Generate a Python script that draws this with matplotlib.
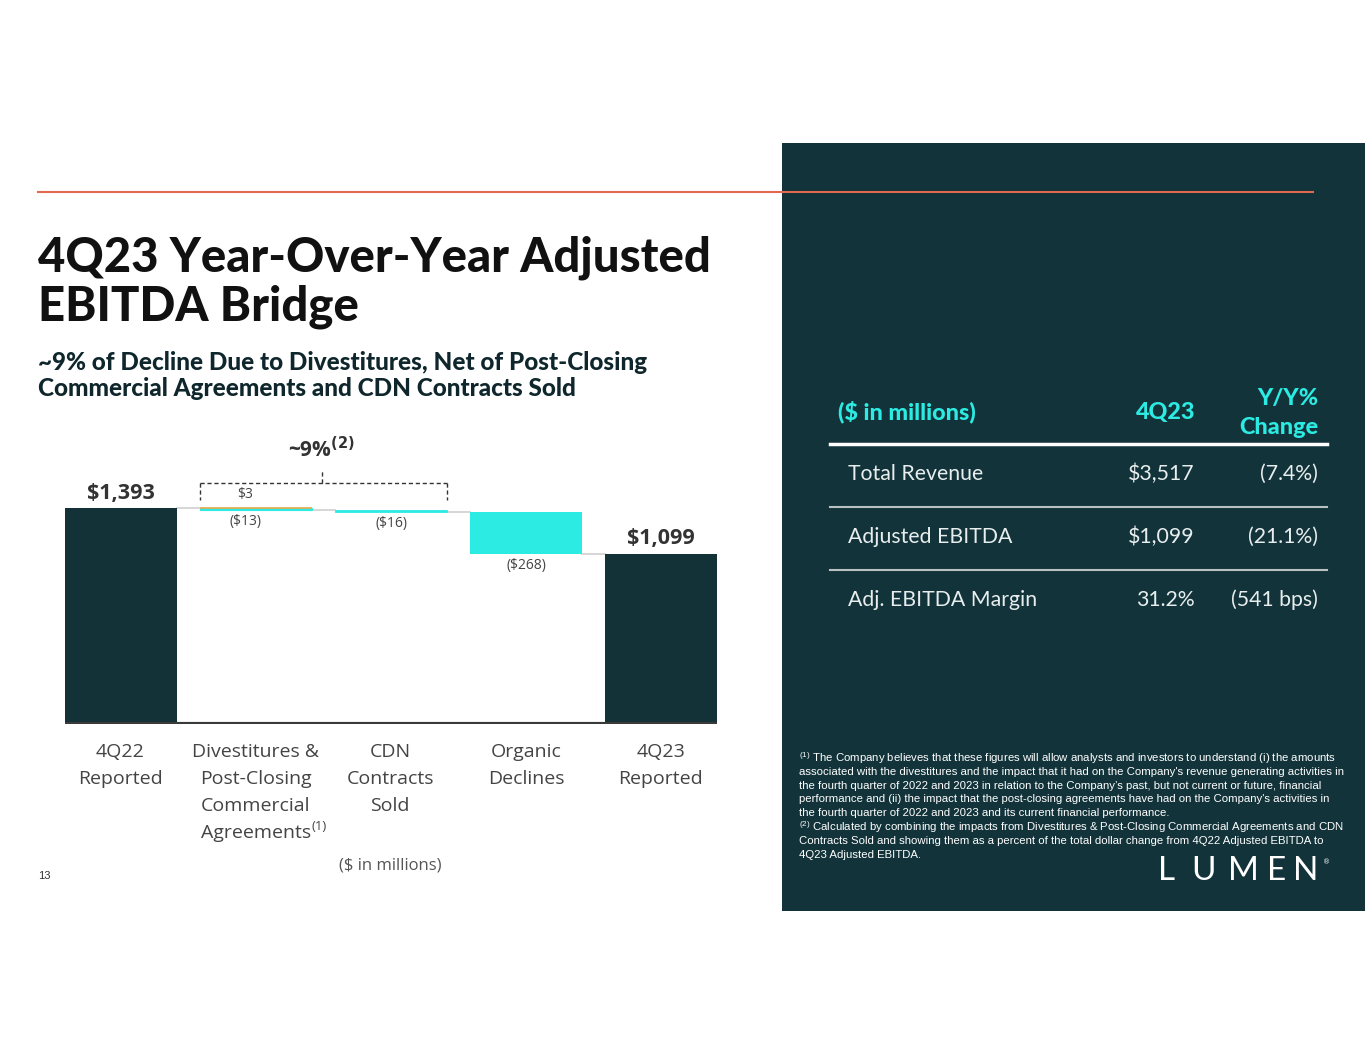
import matplotlib
matplotlib.use("Agg")
import matplotlib.pyplot as plt
from matplotlib.patches import Rectangle
from matplotlib.lines import Line2D

# ---------------- data ----------------
categories = ["4Q22\nReported", "Divestitures &\nPost-Closing\nCommercial\nAgreements",
              "CDN\nContracts\nSold", "Organic\nDeclines", "4Q23\nReported"]
start_value = 1393
post_closing = 3
divestitures = -13
cdn_sold = -16
organic = -268
end_value = 1099
value_labels = ["$1,393", "$3", "($13)", "($16)", "($268)", "$1,099"]

table_header = ["($ in millions)", "4Q23", "Y/Y%\nChange"]
table_rows = ["Total Revenue", "Adjusted EBITDA", "Adj. EBITDA Margin"]
table_4q23 = ["$3,517", "$1,099", "31.2%"]
table_change = ["(7.4%)", "(21.1%)", "(541 bps)"]

footnotes = [
    r"$^{(1)}$ The Company believes that these figures will allow analysts and investors to understand (i) the amounts",
    "associated with the divestitures and the impact that it had on the Company's revenue generating activities in",
    "the fourth quarter of 2022 and 2023 in relation to the Company\u2019s past, but not current or future, financial",
    "performance and (ii) the impact that the post-closing agreements have had on the Company's activities in",
    "the fourth quarter of 2022 and 2023 and its current financial performance.",
    r"$^{(2)}$ Calculated by combining the impacts from Divestitures & Post-Closing Commercial Agreements and CDN",
    "Contracts Sold and showing them as a percent of the total dollar change from 4Q22 Adjusted EBITDA to",
    "4Q23 Adjusted EBITDA.",
]

# ---------------- style ----------------
plt.rcParams['mathtext.default'] = 'regular'
DARK = "#12333a"
BAR_DARK = "#133237"
CYAN = "#2cebe3"
GOLD = "#e9a94e"
ORANGE_LINE = "#e2694f"
GRAY_TXT = "#444444"

W, H = 1365, 1055
fig = plt.figure(figsize=(W / 100, H / 100), dpi=100)
fig.patch.set_facecolor("white")


def P(x, y):
    return (x / W, 1 - y / H)


# dark side panel
fig.patches.append(Rectangle(P(782, 911), (W - 782) / W, (911 - 143) / H,
                             transform=fig.transFigure, facecolor=DARK, edgecolor="none", zorder=0))
# orange rule
fig.lines.append(Line2D([38 / W, 1313 / W], [1 - 192 / H] * 2, transform=fig.transFigure,
                        color=ORANGE_LINE, lw=1.5, zorder=2))

# title & subtitle
TFONT = ["Lato", "DejaVu Sans"]
fig.text(*P(38, 258), "4Q23 Year-Over-Year Adjusted", fontsize=34, fontweight="black",
         family=TFONT, color="#111111", va="center", ha="left")
fig.text(*P(38, 307), "EBITDA Bridge", fontsize=34, fontweight="black",
         family=TFONT, color="#111111", va="center", ha="left")
fig.text(*P(38, 362), "~9% of Decline Due to Divestitures, Net of Post-Closing", fontsize=17.5,
         fontweight="black", family=TFONT, color="#0f272c", va="center", ha="left")
fig.text(*P(38, 389), "Commercial Agreements and CDN Contracts Sold", fontsize=17.5,
         fontweight="black", family=TFONT, color="#0f272c", va="center", ha="left")

# ---------------- waterfall chart ----------------
ax_top, ax_bot, ax_l, ax_r = 440, 724, 65, 717
ax = fig.add_axes([ax_l / W, 1 - ax_bot / H, (ax_r - ax_l) / W, (ax_bot - ax_top) / H])
ymax = 1835
ax.set_xlim(-0.415, 4.415)
ax.set_ylim(0, ymax)
ax.axis("off")
bw = 0.83

x = list(range(5))
lvl1 = start_value + post_closing          # top after agreements
lvl_div = lvl1 + divestitures               # after divestitures
lvl_cdn = lvl_div + cdn_sold
lvl_org = lvl_cdn + organic

ax.bar(x[0], start_value, width=bw, color=BAR_DARK, zorder=3)
ax.bar(x[1], -divestitures, bottom=lvl_div, width=bw, color=CYAN, zorder=3,
       edgecolor=CYAN, linewidth=0.8)
ax.bar(x[1], post_closing, bottom=start_value, width=bw, color=GOLD, zorder=4,
       edgecolor=GOLD, linewidth=1.2)
ax.bar(x[2], -cdn_sold, bottom=lvl_cdn, width=bw, color=CYAN, zorder=3,
       edgecolor=CYAN, linewidth=0.6)
ax.bar(x[3], -organic, bottom=lvl_org, width=bw, color=CYAN, zorder=3)
ax.bar(x[4], end_value, width=bw, color=BAR_DARK, zorder=3)

# connectors
conn = [(0, start_value), (1, lvl_div), (2, lvl_cdn), (3, lvl_org)]
for i, lv in conn:
    ax.plot([i + bw / 2, i + 1 - bw / 2], [lv, lv], color="#d0d0d0", lw=1.2, zorder=2)

# baseline
ax.plot([-0.415, 4.415], [0, 0], color="#3a3a3a", lw=3, zorder=5, solid_capstyle="butt")

LFONT = ["Open Sans", "DejaVu Sans"]
ax.text(x[0], start_value + 30, value_labels[0], ha="center", va="bottom", fontsize=15.5,
        fontweight="bold", family=LFONT, color="#333333")
ax.text(x[4], end_value + 30, value_labels[5], ha="center", va="bottom", fontsize=15.5,
        fontweight="bold", family=LFONT, color="#333333")
ax.text(x[1] - 0.08, lvl1 + 40, value_labels[1], ha="center", va="bottom", fontsize=10,
        family=LFONT, color=GRAY_TXT)
ax.text(x[1] - 0.08, lvl_div - 25, value_labels[2], ha="center", va="top", fontsize=10,
        family=LFONT, color=GRAY_TXT)
ax.text(x[2], lvl_cdn - 25, value_labels[3], ha="center", va="top", fontsize=10,
        family=LFONT, color=GRAY_TXT)
ax.text(x[3], lvl_org - 25, value_labels[4], ha="center", va="top", fontsize=10,
        family=LFONT, color=GRAY_TXT)

# bracket (~9%)
bl = P(200, 0)[0]; br = P(447, 0)[0]; bm = P(322, 0)[0]
yb = 1 - 483 / H; yd = 1 - 500 / H; yu = 1 - 470 / H
for xs, ys in [([bl, br], [yb, yb]), ([bl, bl], [yb, yd]), ([br, br], [yb, yd]), ([bm, bm], [yb, yu])]:
    fig.lines.append(Line2D(xs, ys, transform=fig.transFigure, color="#333333", lw=1,
                            linestyle=(0, (3, 2)), zorder=6))
fig.text(*P(322, 450), r"~9%$^{\mathbf{(2)}}$", fontsize=15, fontweight="bold", family=LFONT,
         color="#333333", ha="center", va="center")

# category labels
cat_x = [120, 256, 390, 526, 661]
for cx, lab in zip(cat_x, categories):
    for j, line in enumerate(lab.split("\n")):
        fig.text(*P(cx, 752 + j * 27), line, fontsize=14, family=LFONT, color=GRAY_TXT,
                 ha="center", va="center")
fig.text(*P(312, 826), "(1)", fontsize=9.5, family=LFONT, color=GRAY_TXT, ha="left", va="center")
fig.text(*P(390, 866), "($ in millions)", fontsize=12, family=LFONT, color="#555555",
         ha="center", va="center")
fig.text(*P(38, 876), "13", fontsize=8, family=["Liberation Sans"], color="#333333",
         ha="left", va="center")

# ---------------- table ----------------
HS = 16.8
fig.text(*P(838, 412), table_header[0], fontsize=HS, fontweight="black", family=TFONT,
         color=CYAN, ha="left", va="center")
fig.text(*P(1195, 412), table_header[1], fontsize=HS, fontweight="black", family=TFONT,
         color=CYAN, ha="right", va="center")
h2 = table_header[2].split("\n")
fig.text(*P(1318, 399), h2[0], fontsize=HS, fontweight="black", family=TFONT,
         color=CYAN, ha="right", va="center")
fig.text(*P(1318, 427), h2[1], fontsize=HS, fontweight="black", family=TFONT,
         color=CYAN, ha="right", va="center")
fig.lines.append(Line2D([830 / W, 1327 / W], [1 - 444 / H] * 2, transform=fig.transFigure,
                        color="white", lw=2.5))
for k, yl in enumerate([507, 570]):
    fig.lines.append(Line2D([830 / W, 1327 / W], [1 - yl / H] * 2, transform=fig.transFigure,
                            color="#b9c1c2", lw=1.5))
for k, (r, v, c) in enumerate(zip(table_rows, table_4q23, table_change)):
    yy = 474 + k * 63
    fig.text(*P(848, yy), r, fontsize=15.3, family=TFONT, color="#e8eeee", ha="left", va="center")
    fig.text(*P(1195, yy), v, fontsize=15.3, family=TFONT, color="#e8eeee", ha="right", va="center")
    fig.text(*P(1318, yy), c, fontsize=15.3, family=TFONT, color="#e8eeee", ha="right", va="center")

# footnotes
for k, line in enumerate(footnotes):
    fig.text(*P(799, 758 + k * 13.8), line, fontsize=8.2, family=["Liberation Sans"],
             color="white", ha="left", va="center")

# LUMEN logo
logo_x = [1167, 1203, 1243, 1277, 1306]
for cx, ch in zip(logo_x, "LUMEN"):
    fig.text(*P(cx, 871), ch, fontsize=24, fontweight="normal", family=TFONT,
             color="white", ha="center", va="center")
fig.text(*P(1327, 862), "\u00ae", fontsize=5, family=["DejaVu Sans"], color="white",
         ha="center", va="center")

fig.savefig("out.png", dpi=100, facecolor="white")
